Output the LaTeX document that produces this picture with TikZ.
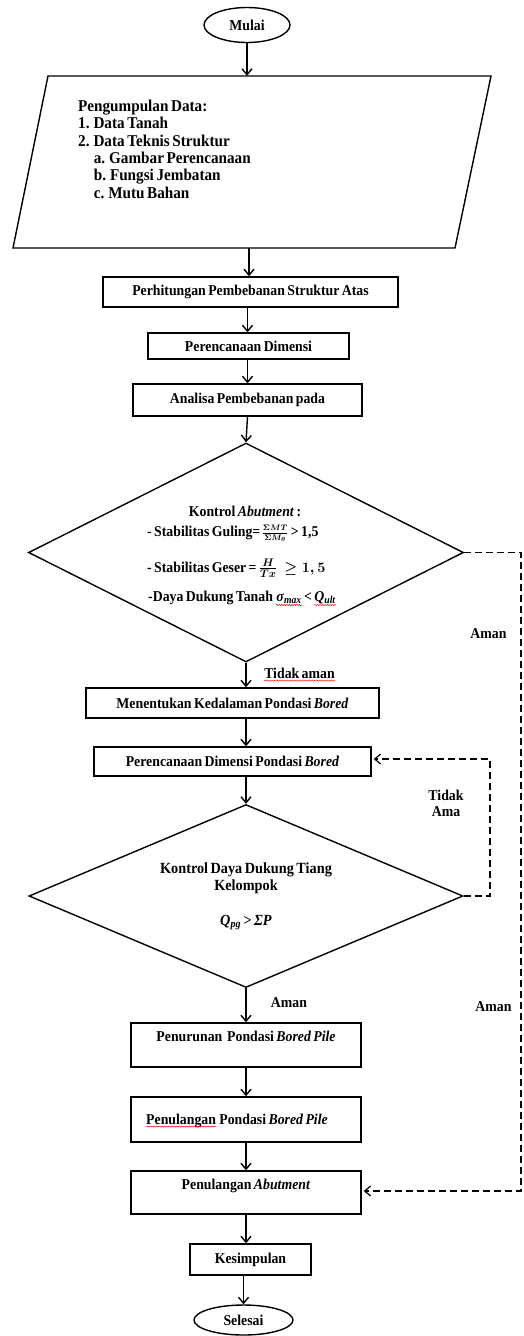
\documentclass[tikz,border=0pt]{standalone}
\usepackage{fontspec}
\setmainfont{Liberation Serif}[FakeStretch=0.92,WordSpace=0.7]
\usetikzlibrary{shapes.geometric,arrows.meta,decorations.pathmorphing}
\begin{document}
\begin{tikzpicture}[x=1pt,y=-1pt,
  font=\fontsize{15}{16.5}\selectfont\bfseries,
  box/.style={draw,line width=1.4pt,inner sep=0pt,align=center},
  term/.style={draw,ellipse,line width=1.4pt,inner sep=0pt},
  dec/.style={draw,diamond,line width=1.4pt,inner sep=0pt,aspect=2,align=center,font=\fontsize{15.5}{17}\selectfont\bfseries\boldmath},
  arr/.style={line width=1.4pt,-{Straight Barb[length=6pt,width=10pt,line width=1.4pt]}},
  darr/.style={line width=1.2pt,dash pattern=on 7pt off 4pt,-{Straight Barb[length=6pt,width=10pt,line width=1.2pt]},shorten >=2pt},
  squig/.style={red,line width=0.5pt,decorate,decoration={snake,amplitude=0.6pt,segment length=2.5pt}},
  lab/.style={inner sep=0pt},
  dline/.style={inner sep=0pt,font=\fontsize{15}{16.5}\selectfont\bfseries\boldmath}
]
\useasboundingbox (0,0) rectangle (523,1336);

% start
\node[term,minimum width=86pt,minimum height=35pt] (start) at (247,25) {Mulai};

% data (parallelogram)
\node[minimum width=443pt,minimum height=172pt,inner sep=0pt] (data) at (249,162) {};
\draw[line width=1.4pt] (48,76) -- (491,76) -- (455,248) -- (13,248) -- cycle;
\node[anchor=north west,align=left,inner sep=0pt,font=\fontsize{16.5}{17.3}\selectfont\bfseries] (datatext) at (78,100)
  {Pengumpulan Data:\\1. Data Tanah\\2. Data Teknis Struktur\\\hspace{0.95em}a. Gambar Perencanaan\\\hspace{0.95em}b. Fungsi Jembatan\\\hspace{0.95em}c. Mutu Bahan};

% process boxes
\node[box,minimum width=295pt,minimum height=30pt] (b1) at (250.5,292) {Perhitungan Pembebanan Struktur Atas};
\node[box,minimum width=201pt,minimum height=26pt] (b2) at (248.5,346) {Perencanaan Dimensi};
\node[box,minimum width=229pt,minimum height=32pt] (b3) at (247.5,400) {Analisa Pembebanan pada};

% decision 1
\node[draw,diamond,line width=1.4pt,inner sep=0pt,minimum width=435pt,minimum height=219pt] (d1) at (246,552.5) {};
\node[dline] (k1) at (245,511) {Kontrol \textit{Abutment} :};
\node[dline,anchor=base west] (k2) at (147,536) {- Stabilitas Guling=};
\node[dline,anchor=base west] (k2f) at ([xshift=1pt]k2.base east) {{\fontsize{11.5}{11.5}\selectfont$\frac{\Sigma MT}{\Sigma M_{\theta}}$}};
\node[dline,anchor=base west] (k2r) at ([xshift=2pt]k2f.base east) {> 1,5};
\node[dline,anchor=west] (k3) at (147,568) {- Stabilitas Geser = $\frac{H}{Tx}\ \geq 1,5$};
\node[dline,anchor=base west] (k4a) at (148,601) {-Daya Dukung Tanah};
\node[dline,anchor=base west] (k4b) at ([xshift=3pt]k4a.base east) {\textit{σ}\textsubscript{\textit{max}}};
\node[dline,anchor=base west] (k4c) at ([xshift=2pt]k4b.base east) {<};
\node[dline,anchor=base west] (k4d) at ([xshift=2pt]k4c.base east) {\textit{Q}\textsubscript{\textit{ult}}};

\node[box,minimum width=293pt,minimum height=30pt] (b4) at (232.5,703) {Menentukan Kedalaman Pondasi \textit{Bored}};
\node[box,minimum width=277pt,minimum height=29pt] (b5) at (232.5,761.5) {Perencanaan Dimensi Pondasi \textit{Bored}};

\node[dec,minimum width=434pt,minimum height=183pt] (d2) at (246,896)
  {Kontrol Daya Dukung Tiang\\Kelompok\\[18pt]\textit{Q}\textsubscript{\textit{pg}} > \textit{ΣP}};

\node[box,minimum width=230pt,minimum height=44pt] (b6) at (246,1045) {Penurunan\ \ Pondasi \textit{Bored Pile}\\\mbox{}};
\node[box,minimum width=230pt,minimum height=45pt] (b7) at (246,1119.5) {};
\node[lab,anchor=base west] (b7a) at (146,1124) {Penulangan};
\node[lab,anchor=base west] (b7b) at ([xshift=3pt]b7a.base east) {Pondasi \textit{Bored Pile}};
\node[box,minimum width=230pt,minimum height=43pt] (b8) at (246,1192.5) {Penulangan \textit{Abutment}\\\mbox{}};
\node[box,minimum width=121pt,minimum height=31pt] (b9) at (250.5,1259.5) {Kesimpulan};
\node[term,minimum width=99pt,minimum height=30pt] (stop) at (243.5,1320) {Selesai};

% labels
\node[lab] (ta) at (299.5,673) {Tidak aman};
\node[lab] (aman1) at (488.5,634) {Aman};
\node[lab] (aman2) at (493.5,1007) {Aman};
\node[lab,align=center] (tidak) at (446,803.5) {Tidak\\Ama};
\node[lab] (aman3) at (289,1003) {Aman};

% main connectors
\draw[arr] (start.south) -- (start.south |- data.north);
\draw[arr] (data.south) -- (data.south |- b1.north);
\draw[arr] (b3.north |- b1.south) -- (b3.north |- b2.north);
\draw[arr] (b3.north |- b2.south) -- (b3.north);
\draw[arr] (b3.south) -- (d1.north);
\draw[arr] (d1.south) -- (d1.south |- b4.north);
\draw[arr] (d1.south |- b4.south) -- (d1.south |- b5.north);
\draw[arr] (d2.north |- b5.south) -- (d2.north);
\draw[arr] (d2.south) -- (b6.north);
\draw[arr] (b6.south) -- (b7.north);
\draw[arr] (b7.south) -- (b8.north);
\draw[arr] (b8.south) -- (b8.south |- b9.north);
\draw[arr] (stop.north |- b9.south) -- (stop.north);

% dashed feedback / bypass connectors
\coordinate (c1) at (521,552.5);
\coordinate (c2) at (521,1191);
\draw[darr] (d1.east) -- (c1) -- (c2) -- (c2 -| b8.east);
\coordinate (c3) at (490,896);
\coordinate (c4) at (490,759);
\draw[darr] (d2.east) -- (c3) -- (c4) -- (c4 -| b5.east);

% spell-check squiggles
\draw[squig] ([yshift=-2.5pt]ta.base west) -- ([yshift=-2.5pt]ta.base east);
\draw[squig] ([yshift=-2.5pt]b7a.base west) -- ([yshift=-2.5pt]b7a.base east);
\draw[squig] ([yshift=-4pt]k4b.base west) -- ([yshift=-4pt]k4b.base east);
\draw[squig] ([yshift=-4pt]k4d.base west) -- ([yshift=-4pt]k4d.base east);
\end{tikzpicture}
\end{document}
